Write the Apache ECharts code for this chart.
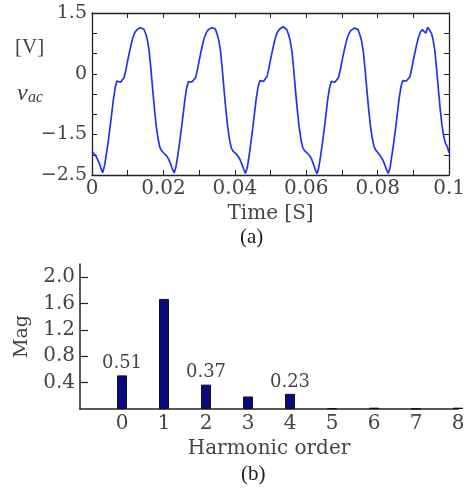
<!DOCTYPE html>
<html>
<head>
<meta charset="utf-8">
<script src="https://cdn.jsdelivr.net/npm/echarts@6/dist/echarts.min.js"></script>
<style>
html, body { margin: 0; padding: 0; background: #fff; }
#chart { width: 468px; height: 489px; }
</style>
</head>
<body>
<div id="chart"></div>
<script>
// (a) measured ac voltage, one sample every 0.5 ms
var tStep = 0.0005;
var vacValues = [
	-1.92, -1.97, -2.02, -2.1, -2.2, -2.33, -2.44, -2.28, -2.0, -1.7,
	-1.36, -1.0, -0.63, -0.34, -0.18, -0.15, -0.21, -0.18, -0.09, 0.1,
	0.33, 0.54, 0.74, 0.91, 1.02, 1.08, 1.12, 1.14, 1.15, 1.1,
	1.0, 0.84, 0.57, 0.12, -0.4, -0.88, -1.3, -1.6, -1.82, -1.9,
	-1.95, -1.98, -2.04, -2.12, -2.22, -2.35, -2.45, -2.3, -2.03, -1.72,
	-1.38, -1.02, -0.65, -0.35, -0.2, -0.16, -0.2, -0.17, -0.1, 0.09,
	0.32, 0.53, 0.73, 0.9, 1.01, 1.08, 1.11, 1.14, 1.14, 1.11,
	0.99, 0.83, 0.55, 0.1, -0.42, -0.9, -1.31, -1.62, -1.83, -1.91,
	-1.94, -1.99, -2.05, -2.13, -2.24, -2.36, -2.46, -2.31, -2.02, -1.7,
	-1.35, -0.98, -0.61, -0.33, -0.17, -0.14, -0.19, -0.16, -0.07, 0.12,
	0.35, 0.56, 0.76, 0.93, 1.04, 1.1, 1.14, 1.16, 1.15, 1.1,
	0.98, 0.82, 0.54, 0.09, -0.43, -0.9, -1.32, -1.61, -1.82, -1.9,
	-1.93, -1.98, -2.03, -2.11, -2.23, -2.36, -2.47, -2.32, -2.04, -1.73,
	-1.39, -1.02, -0.64, -0.36, -0.19, -0.16, -0.21, -0.19, -0.1, 0.08,
	0.31, 0.52, 0.72, 0.89, 1.0, 1.07, 1.11, 1.13, 1.13, 1.09,
	0.97, 0.81, 0.53, 0.08, -0.43, -0.9, -1.31, -1.6, -1.8, -1.89,
	-1.94, -2.0, -2.06, -2.14, -2.25, -2.37, -2.46, -2.3, -2.01, -1.7,
	-1.36, -0.99, -0.62, -0.33, -0.17, -0.13, -0.18, -0.16, -0.08, 0.11,
	0.34, 0.55, 0.75, 0.92, 1.03, 1.09, 1.12, 1.0, 1.15, 1.12,
	1.01, 0.85, 0.57, 0.12, -0.39, -0.86, -1.27, -1.55, -1.72, -1.8,
	-1.95
];
var timeTicks = [0, 0.02, 0.04, 0.06, 0.08, 0.1];
var vacTicks = [1.5, 0, -1.5, -2.5];

// (b) harmonic spectrum
var harmonicOrder = [0, 1, 2, 3, 4, 5, 6, 7, 8];
var harmonicMag = [0.51, 1.67, 0.37, 0.19, 0.23, 0.01, 0.02, 0.005, 0.02];
var labelledOrders = [0, 2, 4];
var magTicks = [0.4, 0.8, 1.2, 1.6, 2.0];

var labelFont = 'DejaVu Serif';
var serifFont = 'Liberation Serif';
var textColor = '#444';
var axisColor = '#222';

var vacData = [];
for (var i = 0; i < vacValues.length; i++) {
	vacData.push([i * tStep, vacValues[i]]);
}
var magData = [];
for (var j = 0; j < harmonicOrder.length; j++) {
	magData.push([harmonicOrder[j], harmonicMag[j]]);
}

function fmtNum(v) {
	return String(v).replace('-', '\u2212');
}

var frameLine = { onZero: false, lineStyle: { color: axisColor, width: 1.3 } };
var innerTick = { inside: true, length: 5, lineStyle: { color: axisColor, width: 1 } };

var myChart = echarts.init(document.getElementById('chart'));
var option = {
	animation: false,
	backgroundColor: '#fff',
	grid: [
		{ left: 92, right: 12, top: 13, height: 162 },
		{ left: 80, right: 10, top: 264, height: 145 }
	],
	xAxis: [ {
		gridIndex: 0,
		type: 'value',
		min: 0,
		max: 0.1,
		interval: 0.01,
		axisLine: frameLine,
		axisTick: innerTick,
		splitLine: { show: false },
		axisLabel: {
			customValues: timeTicks,
			margin: 4,
			color: textColor,
			fontFamily: labelFont,
			fontSize: 20,
			formatter: fmtNum
		},
		name: 'Time [S]',
		nameLocation: 'middle',
		nameGap: 29,
		nameTextStyle: { color: textColor, fontFamily: labelFont, fontSize: 20 }
	}, {
		gridIndex: 0,
		type: 'value',
		position: 'top',
		min: 0,
		max: 0.1,
		interval: 0.01,
		axisLine: frameLine,
		axisTick: innerTick,
		axisLabel: { show: false },
		splitLine: { show: false }
	}, {
		gridIndex: 1,
		type: 'value',
		min: -1,
		max: 8,
		interval: 1,
		axisLine: { onZero: false, lineStyle: { color: axisColor, width: 1.5 } },
		axisTick: { show: false },
		splitLine: { show: false },
		axisLabel: {
			customValues: harmonicOrder,
			margin: 5,
			color: textColor,
			fontFamily: labelFont,
			fontSize: 20
		},
		name: 'Harmonic order',
		nameLocation: 'middle',
		nameGap: 30,
		nameTextStyle: { color: textColor, fontFamily: labelFont, fontSize: 20 }
	} ],
	yAxis: [ {
		gridIndex: 0,
		type: 'value',
		min: -2.5,
		max: 1.5,
		interval: 0.5,
		axisLine: frameLine,
		axisTick: innerTick,
		splitLine: { show: false },
		axisLabel: {
			customValues: vacTicks,
			margin: 5,
			color: textColor,
			fontFamily: labelFont,
			fontSize: 19,
			formatter: fmtNum
		}
	}, {
		gridIndex: 0,
		type: 'value',
		position: 'right',
		min: -2.5,
		max: 1.5,
		interval: 0.5,
		axisLine: frameLine,
		axisTick: innerTick,
		axisLabel: { show: false },
		splitLine: { show: false }
	}, {
		gridIndex: 1,
		type: 'value',
		min: 0,
		max: 2.2,
		axisLine: { show: true, onZero: false, lineStyle: { color: axisColor, width: 1.5 } },
		axisTick: {
			show: true,
			inside: true,
			length: 8,
			customValues: magTicks,
			lineStyle: { color: axisColor, width: 1.2 }
		},
		splitLine: { show: false },
		axisLabel: {
			customValues: magTicks,
			margin: 5,
			color: textColor,
			fontFamily: labelFont,
			fontSize: 20,
			formatter: function (v) { return v.toFixed(1); }
		},
		name: 'Mag',
		nameLocation: 'middle',
		nameGap: 48,
		nameTextStyle: { color: textColor, fontFamily: labelFont, fontSize: 19 }
	} ],
	series: [ {
		name: 'vac',
		type: 'line',
		xAxisIndex: 0,
		yAxisIndex: 0,
		data: vacData,
		showSymbol: false,
		lineStyle: { color: '#2233f0', width: 1.7 }
	}, {
		name: 'Mag',
		type: 'bar',
		xAxisIndex: 2,
		yAxisIndex: 2,
		data: magData,
		barWidth: 10,
		itemStyle: { color: '#0a0a80', borderColor: '#111', borderWidth: 1 },
		label: {
			show: true,
			position: 'top',
			distance: 3,
			color: textColor,
			fontFamily: labelFont,
			fontSize: 18,
			formatter: function (p) {
				return labelledOrders.indexOf(p.value[0]) >= 0 ? p.value[1].toFixed(2) : '';
			}
		}
	} ],
	graphic: [
		{ type: 'text', left: 15, top: 37, style: { text: '[V]', fontFamily: serifFont, fontSize: 21, fill: textColor } },
		{ type: 'text', left: 17, top: 82, style: { text: 'v', fontFamily: serifFont, fontStyle: 'italic', fontSize: 24, fill: textColor } },
		{ type: 'text', left: 28, top: 90, style: { text: 'ac', fontFamily: serifFont, fontStyle: 'italic', fontSize: 16, fill: textColor } },
		{ type: 'text', left: 240, top: 227, style: { text: '(a)', fontFamily: serifFont, fontSize: 21, fill: '#222' } },
		{ type: 'text', left: 241, top: 464, style: { text: '(b)', fontFamily: serifFont, fontSize: 21, fill: '#222' } }
	]
};
myChart.setOption(option);
</script>
</body>
</html>
